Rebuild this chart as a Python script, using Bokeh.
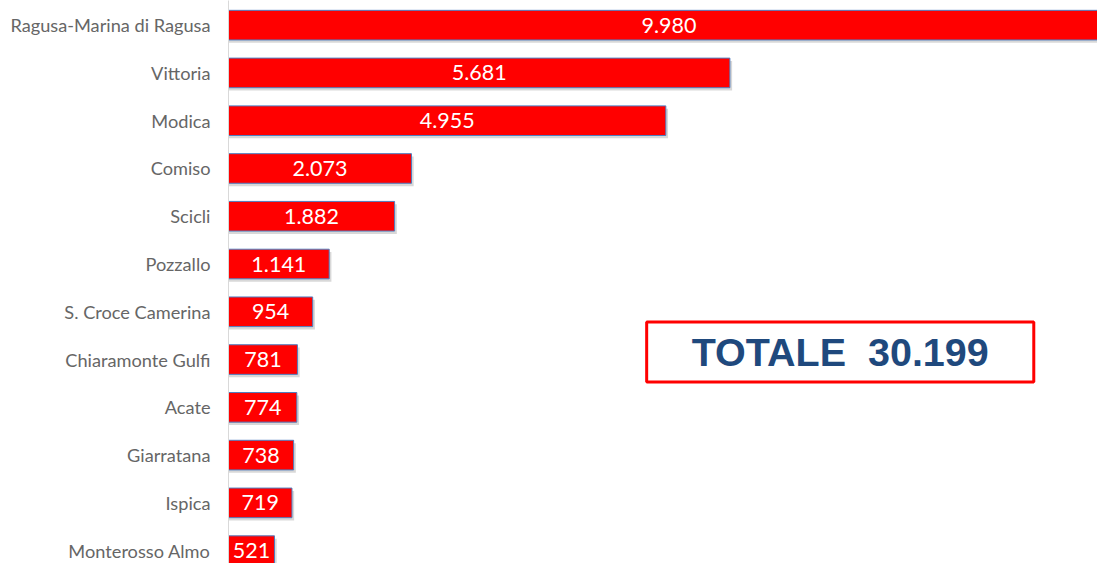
from bokeh.plotting import figure
from bokeh.models import ColumnDataSource, Range1d, FixedTicker, BoxAnnotation, Label
from bokeh.transform import dodge
from bokeh.embed import file_html
from bokeh.resources import INLINE
from bokeh.core.properties import value

# ---- data ----
comuni = ["Ragusa-Marina di Ragusa", "Vittoria", "Modica", "Comiso", "Scicli", "Pozzallo",
          "S. Croce Camerina", "Chiaramonte Gulfi", "Acate", "Giarratana", "Ispica", "Monterosso Almo"]
valori = [9980, 5681, 4955, 2073, 1882, 1141, 954, 781, 774, 738, 719, 521]
totale_label = "TOTALE \u00a030.199"

idx = list(range(len(comuni)))
etichette = [f"{v:,}".replace(",", ".") for v in valori]
src = ColumnDataSource(dict(y=idx, v=valori, half=[v / 2 for v in valori], lab=etichette, cat=comuni))

W, H = 1097, 563
p = figure(width=W, height=H, output_backend="svg", toolbar_location=None,
           x_range=Range1d(0, 9846), y_range=Range1d(11.269, -0.516),
           x_axis_location=None, y_axis_location="left",
           min_border_left=228, min_border_right=0, min_border_top=0, min_border_bottom=0)
p.outline_line_color = None
p.xgrid.visible = False
p.ygrid.visible = False
p.background_fill_color = "white"
p.border_fill_color = "white"

ax = p.yaxis[0]
ax.ticker = FixedTicker(ticks=idx)
ax.major_label_overrides = {i: c for i, c in zip(idx, comuni)}
ax.axis_line_color = "#d9d9d9"
ax.axis_line_width = 1
ax.major_tick_line_color = None
ax.minor_tick_line_color = None
ax.major_tick_out = 0
ax.major_tick_in = 0
ax.major_label_standoff = 18
ax.major_label_text_font = "Lato"
ax.major_label_text_font_size = "18.2px"
ax.major_label_text_color = "#666666"

# shadow
p.hbar(y=dodge("y", 0.06), right=dodge("v", 25), left=0, height=0.62, source=src,
       fill_color="#7f7f7f", fill_alpha=0.3, line_color=None)
# bars
p.hbar(y="y", right="v", left=0, height=0.62, source=src,
       fill_color="#ff0000", line_color="#4f7ec0", line_width=1)
p.text(x="half", y="y", text="lab", source=src, text_align="center", text_baseline="middle",
       text_color="white", text_font=value("Lato"), text_font_size="21.5px")

box = BoxAnnotation(left=4738, right=9124, top=6.213, bottom=7.472,
                    fill_color="white", fill_alpha=1.0,
                    line_color="#ff0000", line_alpha=1.0, line_width=3)
p.add_layout(box)
p.add_layout(Label(x=6931, y=6.852, text=totale_label, text_align="center", text_baseline="middle",
                   text_font="Liberation Sans", text_font_style="bold", text_font_size="39.5px",
                   text_color="#1f497d"))

open("out.html", "w").write(file_html(p, INLINE))
